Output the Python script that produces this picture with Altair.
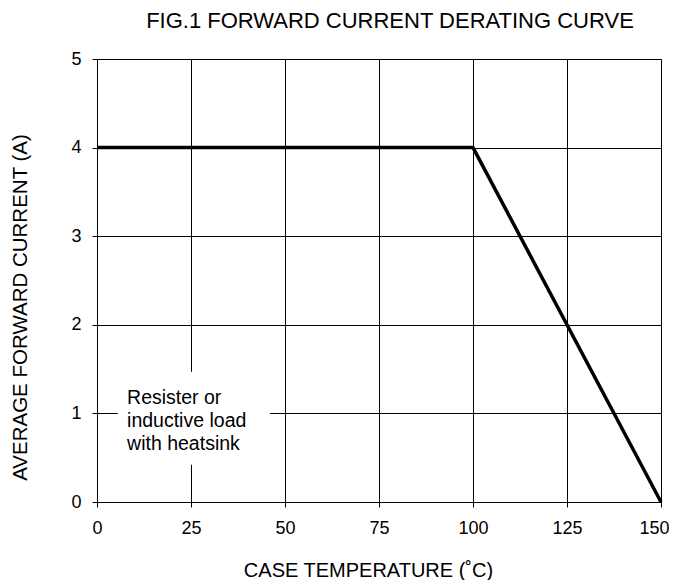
import altair as alt
import pandas as pd

# Derating curve data
temperature = [0, 100, 150]
current = [4, 4, 0]

x_ticks = [0, 25, 50, 75, 100, 125, 150]
y_ticks = [0, 1, 2, 3, 4, 5]

annotation_lines = ["Resister or", "inductive load", "with heatsink"]
annot_x = [8]
annot_y = [1.17]
box_x = [5.5]
box_x2 = [46]
box_y = [0.42]
box_y2 = [1.47]

FONT = "Liberation Sans"

curve_df = pd.DataFrame({"t": temperature, "i": current})
box_df = pd.DataFrame({"x": box_x, "x2": box_x2, "y": box_y, "y2": box_y2})
text_df = pd.DataFrame({"x": annot_x, "y": annot_y, "label": [annotation_lines]})

xscale = alt.Scale(domain=[0, 150], nice=False, zero=False)
yscale = alt.Scale(domain=[0, 5], nice=False, zero=False)

xaxis = alt.Axis(
    values=x_ticks, title="CASE TEMPERATURE (˚C)", grid=True, format="d",
    gridColor="black", gridOpacity=1, gridWidth=1,
    domainColor="black", tickColor="black", tickSize=5,
    labelFont=FONT, labelFontSize=18, labelColor="black", labelPadding=12,
    labelAlign={"condition": {"test": "datum.value === 150", "value": "right"}, "value": "center"},
    labelOffset={"condition": {"test": "datum.value === 150", "value": 8}, "value": 0},
    titleFont=FONT, titleFontSize=20, titleFontWeight="normal", titleColor="black",
    titleY=74, titleX=271, titleBaseline="alphabetic", labelFlush=False,
)
yaxis = alt.Axis(
    values=y_ticks, title="AVERAGE FORWARD CURRENT (A)", grid=True, format="d",
    gridColor="black", gridOpacity=1, gridWidth=1,
    domainColor="black", tickColor="black", tickSize=5,
    labelFont=FONT, labelFontSize=18, labelColor="black", labelPadding=11,
    titleFont=FONT, titleFontSize=20.5, titleFontWeight="normal", titleColor="black",
    titleX=-77, titleY=248, titleBaseline="middle", titleAngle=-90, labelFlush=False,
)

line = alt.Chart(curve_df).mark_line(color="black", strokeWidth=3.5).encode(
    x=alt.X("t:Q", scale=xscale, axis=xaxis),
    y=alt.Y("i:Q", scale=yscale, axis=yaxis),
)

box = alt.Chart(box_df).mark_rect(color="white", opacity=1).encode(
    x=alt.X("x:Q", scale=xscale), x2="x2:Q",
    y=alt.Y("y:Q", scale=yscale), y2="y2:Q",
)

text = alt.Chart(text_df).mark_text(
    align="left", baseline="middle", font=FONT, fontSize=19.5, lineHeight=23, color="black"
).encode(
    x=alt.X("x:Q", scale=xscale),
    y=alt.Y("y:Q", scale=yscale),
    text="label",
)

chart = alt.layer(box, line, text).properties(
    width=564, height=443,
    autosize="none",
    padding={"left": 89, "top": 51, "right": 8, "bottom": 78},
    title=alt.TitleParams(
        "FIG.1 FORWARD CURRENT DERATING CURVE", font=FONT, fontSize=22,
        fontWeight="normal", color="black", anchor="middle", offset=17, dx=11,
    ),
).configure_view(stroke="black", strokeWidth=1).configure(background="white")

chart.save("out.html", embed_options={"renderer": "svg", "actions": False})
